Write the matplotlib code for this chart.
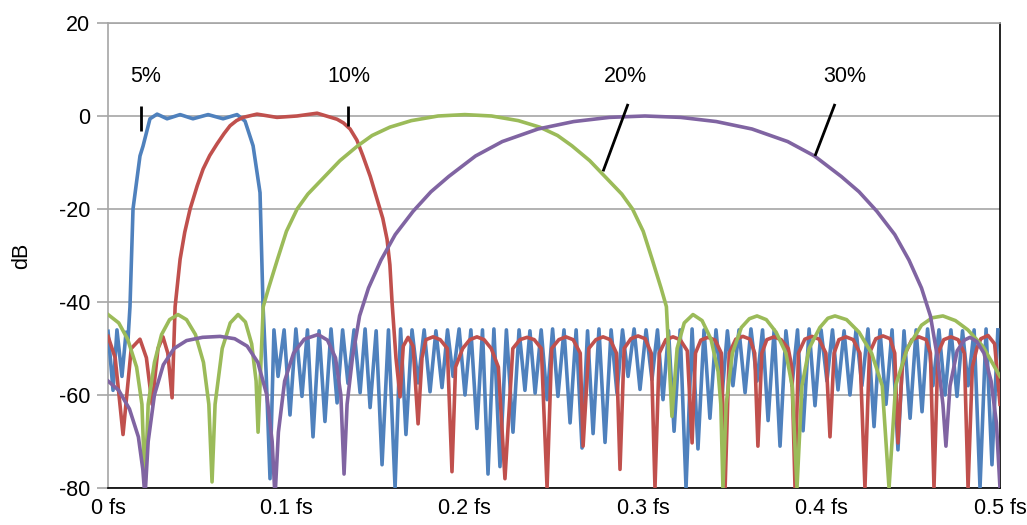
import matplotlib
matplotlib.use("Agg")
import matplotlib.pyplot as plt

plt.rcParams['font.family'] = ['Liberation Sans', 'DejaVu Sans']

# Filter responses, frequency in fs and magnitude in dB.
# 5% band: left stopband, passband, then stopband nulls/peaks.
blue_f = [0.0, 0.0028, 0.0050, 0.0078, 0.0101, 0.0112, 0.0123, 0.0140, 0.0179,
          0.0196, 0.0235, 0.0275, 0.0331, 0.0404, 0.0476, 0.0561, 0.0645, 0.0723,
          0.0768, 0.0813, 0.0852, 0.0869, 0.0886, 0.0908, 0.0930]
blue_db = [-46.3, -59.0, -46.0, -56.0, -46.5, -48.0, -41.0, -20.0, -8.6,
           -6.5, -0.6, 0.4, -0.6, 0.3, -0.6, 0.3, -0.6, 0.3,
           -1.1, -6.4, -16.5, -41.0, -55.0, -78.0, -46.0]

blue_null_f = [0.0953, 0.1020, 0.1087, 0.1149, 0.1216, 0.1284, 0.1345, 0.1413, 0.1469, 0.1536,
               0.1609, 0.1670, 0.1738, 0.1805, 0.1872, 0.1934, 0.2001, 0.2068, 0.2130, 0.2197,
               0.2270, 0.2337, 0.2394, 0.2461, 0.2522, 0.2590, 0.2657, 0.2719, 0.2786, 0.2853,
               0.2915, 0.2982, 0.3049, 0.3111, 0.3173, 0.3240, 0.3307, 0.3374, 0.3442, 0.3503,
               0.3571, 0.3638, 0.3700, 0.3767, 0.3834, 0.3896, 0.3963, 0.4030, 0.4092, 0.4159,
               0.4226, 0.4294, 0.4361, 0.4428, 0.4496, 0.4563, 0.4624, 0.4692, 0.4759, 0.4821,
               0.4888, 0.4955]
blue_null_db = [-56.0, -64.3, -60.3, -69.0, -65.7, -61.7, -57.5, -59.5, -62.7, -75.0,
                -80.0, -68.5, -57.4, -59.3, -58.4, -56.0, -60.0, -67.2, -77.0, -75.4,
                -68.0, -59.0, -59.6, -61.0, -60.3, -66.0, -71.4, -68.3, -70.2, -59.6,
                -56.0, -58.8, -56.7, -61.0, -67.8, -80.0, -71.6, -65.0, -60.0, -58.0,
                -59.5, -57.0, -65.5, -71.0, -58.0, -67.7, -62.3, -57.0, -58.9, -60.0,
                -58.0, -66.8, -62.0, -71.8, -65.0, -63.6, -58.0, -60.0, -60.3, -58.0,
                -80.0, -75.0]
blue_peak_f = [0.0987, 0.1053, 0.1118, 0.1183, 0.1250, 0.1315, 0.1379, 0.1441, 0.1503, 0.1572,
               0.1640, 0.1704, 0.1772, 0.1838, 0.1903, 0.1968, 0.2034, 0.2099, 0.2163, 0.2233,
               0.2304, 0.2365, 0.2428, 0.2492, 0.2556, 0.2624, 0.2688, 0.2752, 0.2820, 0.2884,
               0.2949, 0.3016, 0.3080, 0.3142, 0.3207, 0.3274, 0.3341, 0.3408, 0.3472, 0.3537,
               0.3604, 0.3669, 0.3734, 0.3800, 0.3865, 0.3930, 0.3997, 0.4061, 0.4126, 0.4193,
               0.4260, 0.4327, 0.4395, 0.4462, 0.4530, 0.4594, 0.4658, 0.4725, 0.4790, 0.4855,
               0.4922, 0.4988]
blue_peak_db = [-46.0, -45.8, -46.0, -46.2, -45.8, -46.0, -46.0, -45.8, -46.2, -46.0,
                -45.8, -46.0, -46.0, -46.2, -46.0, -45.8, -46.0, -46.0, -45.8, -46.0,
                -46.0, -46.2, -46.0, -45.8, -46.0, -46.0, -46.2, -45.8, -46.0, -46.0,
                -45.8, -46.0, -46.0, -46.2, -46.0, -45.8, -46.0, -46.0, -46.2, -46.0,
                -45.8, -46.0, -46.0, -46.2, -46.0, -45.8, -46.0, -46.0, -46.2, -46.0,
                -45.8, -46.0, -46.0, -46.2, -46.0, -45.8, -46.0, -46.0, -46.2, -46.0,
                -45.8, -46.0]

# 10% band
red_f = [0.0, 0.0040, 0.0084, 0.0130, 0.0179, 0.0215, 0.0247, 0.0280, 0.0308, 0.0335,
         0.0359, 0.0376, 0.0404, 0.0430, 0.0460, 0.0500, 0.0533, 0.0570, 0.0611, 0.0650,
         0.0684, 0.0720, 0.0757, 0.0835, 0.0947, 0.1059, 0.1172, 0.1284, 0.1320, 0.1357,
         0.1395, 0.1429, 0.1470, 0.1508, 0.1540, 0.1564, 0.1580, 0.1592, 0.1614,
         0.1637, 0.1655, 0.1682, 0.1710, 0.1738,
         0.1760, 0.1782, 0.1822, 0.1862, 0.1902, 0.1928,
         0.1948, 0.1988, 0.2028, 0.2068, 0.2108, 0.2148, 0.2188, 0.2225,
         0.2269, 0.2309, 0.2349, 0.2389, 0.2429, 0.2461,
         0.2487, 0.2527, 0.2567, 0.2607, 0.2647, 0.2663,
         0.2695, 0.2735, 0.2775, 0.2815, 0.2850, 0.2870,
         0.2893, 0.2931, 0.2971, 0.3011, 0.3045, 0.3066,
         0.3090, 0.3127, 0.3167, 0.3207, 0.3247, 0.3274,
         0.3293, 0.3323, 0.3363, 0.3403, 0.3438, 0.3459,
         0.3482, 0.3519, 0.3559, 0.3599, 0.3625, 0.3643,
         0.3665, 0.3693, 0.3733, 0.3773, 0.3813, 0.3833, 0.3851,
         0.3870, 0.3906, 0.3946, 0.3986, 0.4024, 0.4047,
         0.4070, 0.4097, 0.4137, 0.4177, 0.4215, 0.4243,
         0.4268, 0.4304, 0.4344, 0.4384, 0.4410, 0.4428,
         0.4452, 0.4470, 0.4506, 0.4546, 0.4586, 0.4610, 0.4630,
         0.4652, 0.4685, 0.4725, 0.4765, 0.4800, 0.4821,
         0.4845, 0.4870, 0.4893, 0.4933, 0.4970, 0.5]
red_db = [-47.4, -52.0, -68.5, -50.0, -48.0, -52.0, -62.0, -50.0, -47.5, -51.0,
          -60.6, -41.0, -30.8, -25.0, -20.0, -15.0, -11.4, -8.5, -6.0, -3.8,
          -2.1, -1.0, -0.3, 0.4, -0.3, 0.0, 0.6, -0.7, -1.5, -2.8,
          -5.2, -8.6, -13.0, -17.9, -22.0, -26.5, -32.0, -40.0, -52.0,
          -60.4, -49.5, -47.6, -49.5, -66.2,
          -52.0, -48.1, -47.5, -48.1, -50.0, -76.5,
          -54.0, -50.0, -48.1, -47.5, -48.1, -50.0, -54.0, -78.0,
          -50.0, -48.1, -47.6, -48.1, -50.0, -80.0,
          -50.0, -48.1, -47.5, -48.1, -51.0, -71.0,
          -50.0, -48.1, -47.5, -48.1, -51.0, -76.0,
          -50.0, -47.9, -47.3, -47.9, -51.0, -80.0,
          -51.0, -48.1, -47.5, -48.1, -50.5, -70.3,
          -51.0, -48.2, -47.6, -48.2, -51.0, -80.0,
          -51.0, -48.0, -47.4, -48.0, -51.0, -71.0,
          -51.0, -48.1, -47.5, -48.1, -50.0, -54.0, -80.0,
          -51.0, -48.0, -47.4, -48.0, -51.0, -69.0,
          -51.0, -48.1, -47.5, -48.1, -51.0, -80.0,
          -51.0, -47.9, -47.3, -47.9, -51.0, -70.3,
          -54.0, -51.0, -48.1, -47.5, -48.1, -51.0, -80.0,
          -51.0, -48.1, -47.5, -48.1, -51.0, -80.0,
          -54.0, -50.0, -47.9, -47.2, -49.0, -62.0]

# 20% band
green_f = [0.0, 0.0060, 0.0110, 0.0160, 0.0190, 0.0207, 0.0225, 0.0260, 0.0300, 0.0345,
           0.0392, 0.0440, 0.0490, 0.0535, 0.0565, 0.0583, 0.0600, 0.0640, 0.0685, 0.0729,
           0.0770, 0.0805, 0.0830, 0.0841,
           0.0870, 0.0900, 0.0950, 0.1000, 0.1060, 0.1120, 0.1200, 0.1300, 0.1400, 0.1480,
           0.1580, 0.1700, 0.1850, 0.2000, 0.2150, 0.2300, 0.2420, 0.2520, 0.2600, 0.2700,
           0.2800, 0.2880, 0.2940, 0.3000, 0.3050, 0.3100, 0.3130, 0.3161,
           0.3190, 0.3230, 0.3279, 0.3330, 0.3380, 0.3420, 0.3435, 0.3447,
           0.3465, 0.3500, 0.3550, 0.3595, 0.3638, 0.3690, 0.3745, 0.3800, 0.3835, 0.3862,
           0.3890, 0.3930, 0.3990, 0.4035, 0.4075, 0.4140, 0.4210, 0.4280, 0.4340, 0.4378,
           0.4415, 0.4480, 0.4560, 0.4620, 0.4680, 0.4750, 0.4820, 0.4905, 0.5]
green_db = [-42.7, -44.5, -48.0, -54.0, -62.0, -80.0, -62.0, -53.0, -47.0, -43.8,
            -42.7, -43.8, -47.0, -53.0, -62.0, -78.7, -62.0, -50.0, -44.5, -42.7,
            -44.3, -49.0, -57.0, -68.0,
            -41.0, -37.0, -30.8, -24.8, -20.0, -16.8, -13.6, -9.6, -6.4, -4.2,
            -2.4, -1.0, 0.0, 0.3, 0.0, -1.0, -2.4, -4.2, -6.4, -9.6,
            -13.6, -16.8, -20.0, -24.8, -30.8, -37.0, -41.0, -64.6,
            -50.0, -44.5, -42.7, -44.0, -48.0, -55.0, -62.0, -80.0,
            -62.0, -51.0, -45.5, -43.6, -43.0, -43.8, -46.5, -51.0, -58.0, -80.0,
            -58.0, -50.0, -45.5, -43.5, -43.0, -43.8, -46.5, -51.0, -58.0, -80.0,
            -58.0, -50.0, -45.0, -43.4, -43.0, -44.0, -46.0, -49.6, -56.0]

# 30% band
purple_f = [0.0, 0.0060, 0.0120, 0.0170, 0.0195, 0.0207, 0.0225, 0.0260, 0.0310, 0.0370,
            0.0440, 0.0530, 0.0628, 0.0710, 0.0780, 0.0840, 0.0890, 0.0920, 0.0936, 0.0955,
            0.0990, 0.1040, 0.1100, 0.1177, 0.1230, 0.1275, 0.1305, 0.1323,
            0.1340, 0.1370, 0.1410, 0.1460, 0.1530, 0.1610, 0.1710, 0.1810, 0.1910, 0.2060,
            0.2210, 0.2410, 0.2610, 0.2810, 0.3010, 0.3210, 0.3410, 0.3610, 0.3810, 0.3960,
            0.4110, 0.4210, 0.4310, 0.4410, 0.4490, 0.4560, 0.4610, 0.4650, 0.4680, 0.4697,
            0.4720, 0.4760, 0.4800, 0.4832, 0.4870, 0.4910, 0.4950, 0.4980, 0.5]
purple_db = [-57.0, -59.0, -63.0, -69.0, -76.0, -82.0, -70.0, -60.0, -53.5, -50.0,
             -48.3, -47.6, -47.4, -47.9, -49.5, -53.0, -60.0, -70.0, -82.0, -68.0,
             -57.0, -51.0, -48.0, -47.0, -48.2, -52.0, -60.0, -77.0,
             -62.0, -52.0, -43.0, -37.0, -31.0, -25.5, -20.5, -16.3, -13.0, -8.6,
             -5.5, -2.8, -1.2, -0.3, 0.0, -0.3, -1.2, -2.8, -5.5, -8.6,
             -13.0, -16.3, -20.5, -25.5, -31.0, -37.0, -43.0, -52.0, -62.0, -71.0,
             -58.0, -50.5, -48.2, -47.6, -48.5, -51.0, -57.0, -66.0, -80.0]

# Band labels: text position and leader line ends
labels = ['5%', '10%', '20%', '30%']
label_f = [0.0213, 0.1350, 0.2898, 0.4131]
lead_start_f = [0.0185, 0.1345, 0.2915, 0.4075]
lead_end_f = [0.0185, 0.1345, 0.2775, 0.3963]
lead_start_db = [2.2, 2.2, 2.6, 2.6]
lead_end_db = [-3.2, -2.2, -11.9, -8.6]

y_ticks = [20, 0, -20, -40, -60, -80]
x_ticks = [0, 0.1, 0.2, 0.3, 0.4, 0.5]
x_tick_labels = ['0 fs', '0.1 fs', '0.2 fs', '0.3 fs', '0.4 fs', '0.5 fs']

# merge stopband nulls and peaks of the 5% response into one path
for nf, nd, pf, pd in zip(blue_null_f, blue_null_db, blue_peak_f, blue_peak_db):
    blue_f += [nf, pf]
    blue_db += [nd, pd]

fig = plt.figure(figsize=(10.27, 5.25), dpi=100)
ax = fig.add_axes([0.1052, 0.0705, 0.8685, 0.8857])

lw = 2.6
ax.plot(blue_f, blue_db, color='#4F81BD', lw=lw, zorder=3, solid_joinstyle='round')
ax.plot(red_f, red_db, color='#C0504D', lw=lw, zorder=4, solid_joinstyle='round')
ax.plot(green_f, green_db, color='#9BBB59', lw=lw, zorder=5, solid_joinstyle='round')
ax.plot(purple_f, purple_db, color='#8064A2', lw=lw, zorder=6, solid_joinstyle='round')

for txt, tf, sf, ef, sd, ed in zip(labels, label_f, lead_start_f, lead_end_f,
                                   lead_start_db, lead_end_db):
    ax.plot([sf, ef], [sd, ed], color='black', lw=2.0, zorder=7, solid_capstyle='butt')
    ax.text(tf, 8.4, txt, ha='center', va='center', fontsize=15.5, zorder=8)

ax.set_xlim(0, 0.5)
ax.set_ylim(-80, 20)
ax.set_yticks(y_ticks)
ax.set_yticklabels([str(v) for v in y_ticks])
ax.set_xticks(x_ticks)
ax.set_xticklabels(x_tick_labels)
ax.grid(axis='y', color='#A6A6A6', lw=1.2, zorder=1)
ax.tick_params(axis='y', length=8, width=1.2, color='#A6A6A6', labelsize=15.5, pad=5)
ax.tick_params(axis='x', length=0, labelsize=15.5, pad=7)
ax.set_ylabel('dB', fontsize=15.5, labelpad=19)

ax.spines['left'].set_color('#A6A6A6')
ax.spines['top'].set_color('#A6A6A6')
ax.spines['bottom'].set_color('black')
ax.spines['right'].set_color('black')
for s in ax.spines.values():
    s.set_linewidth(1.2)

fig.savefig('out.png', dpi=100)
